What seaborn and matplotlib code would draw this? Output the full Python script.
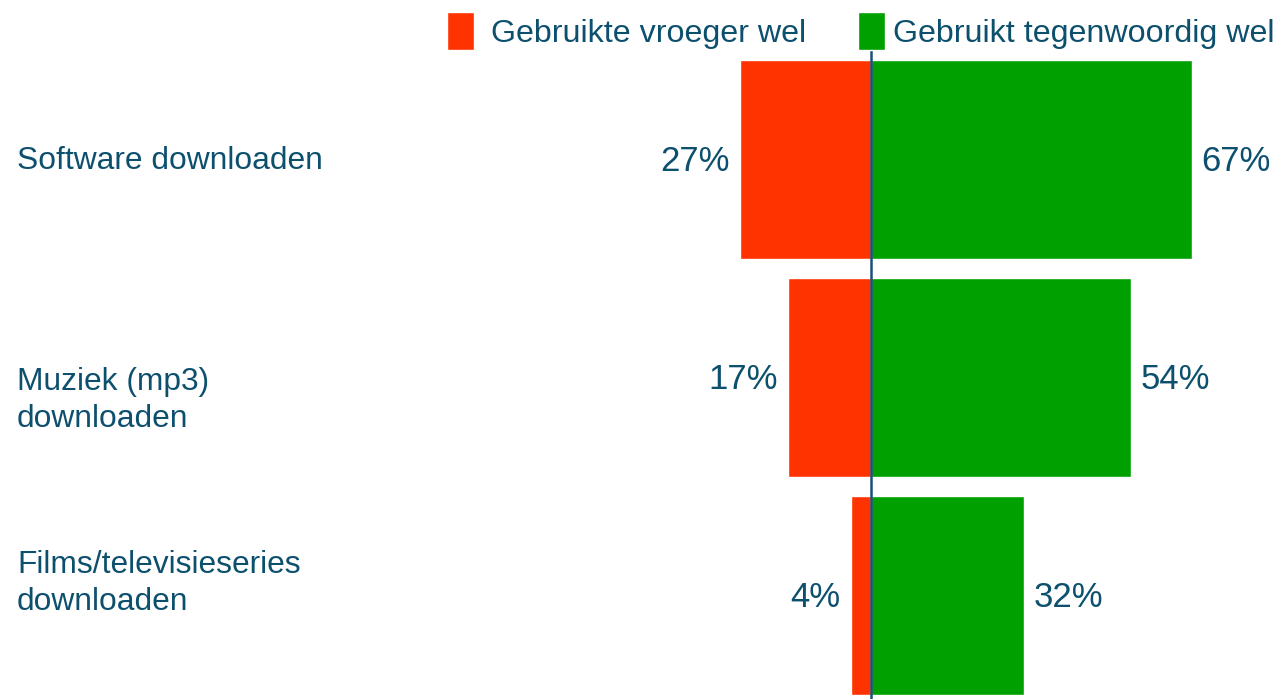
import matplotlib
matplotlib.use("Agg")
import matplotlib.pyplot as plt
from matplotlib.legend import Legend
import seaborn as sns
import pandas as pd

categories = ["Software downloaden", "Muziek (mp3)\ndownloaden", "Films/televisieseries\ndownloaden"]
series_names = ["Gebruikte vroeger wel", "Gebruikt tegenwoordig wel"]
vroeger = [27.3, 17.3, 4.2]
tegenwoordig = [67.0, 54.3, 31.9]

RED = "#FF3300"
GREEN = "#00A000"
TEXT = "#0d506e"
LINE = "#1f4e79"

sns.set_style("white")
plt.rcParams["font.family"] = ["Liberation Sans", "DejaVu Sans"]

rows = []
for c, v in zip(categories, vroeger):
    rows.append({"category": c, "series": series_names[0], "value": -v})
for c, v in zip(categories, tegenwoordig):
    rows.append({"category": c, "series": series_names[1], "value": v})
df = pd.DataFrame(rows)

fig = plt.figure(figsize=(12.75, 6.99), dpi=100)
ax = fig.add_axes([0, 0, 1, 1])
sns.barplot(data=df, x="value", y="category", hue="series", order=categories,
            hue_order=series_names, palette=[RED, GREEN], dodge=False,
            width=0.913, orient="h", saturation=1, ax=ax, legend=True)

ax.set_xlim(-181.84, 84.34)
ax.set_ylim(2.4748, -0.7317)
for s in ax.spines.values():
    s.set_visible(False)
ax.set_xticks([])
ax.set_yticks([])
ax.set_xlabel("")
ax.set_ylabel("")

# zero line
ax.vlines(0, -0.7317 + 50 / 218, 2.4748, color=LINE, lw=1.8, zorder=5)

# value labels
for i, (v, t) in enumerate(zip(vroeger, tegenwoordig)):
    ax.annotate(f"{v:.0f}%", xy=(-v, i), xytext=(-7.5, -8.5), textcoords="offset points",
                ha="right", va="baseline", fontsize=25, color=TEXT)
    ax.annotate(f"{t:.0f}%", xy=(t, i), xytext=(6.8, -8.5), textcoords="offset points",
                ha="left", va="baseline", fontsize=25, color=TEXT)

# category labels (baseline of last line, pixels from top)
label_baselines = [169, 427, 610]
for c, yb in zip(categories, label_baselines):
    fig.text(17 / 1275, 1 - yb / 699, c, ha="left", va="baseline", fontsize=22.9,
             color=TEXT, linespacing=1.31)

handles, labels = ax.get_legend_handles_labels()
ax.get_legend().remove()
leg_specs = [(447 / 1275, 0.52), (858 / 1275, 0.24)]
for h, l, (x0, pad) in zip(handles, labels, leg_specs):
    leg = Legend(ax, [h], [l], loc="upper left", bbox_to_anchor=(x0, 1 - 12 / 699),
                 bbox_transform=fig.transFigure, frameon=False, fontsize=23.2,
                 borderpad=0, borderaxespad=0, handlelength=0.85, handleheight=1.45,
                 handletextpad=pad)
    for txt in leg.get_texts():
        txt.set_color(TEXT)
    ax.add_artist(leg)

fig.savefig("out.png", dpi=100)
